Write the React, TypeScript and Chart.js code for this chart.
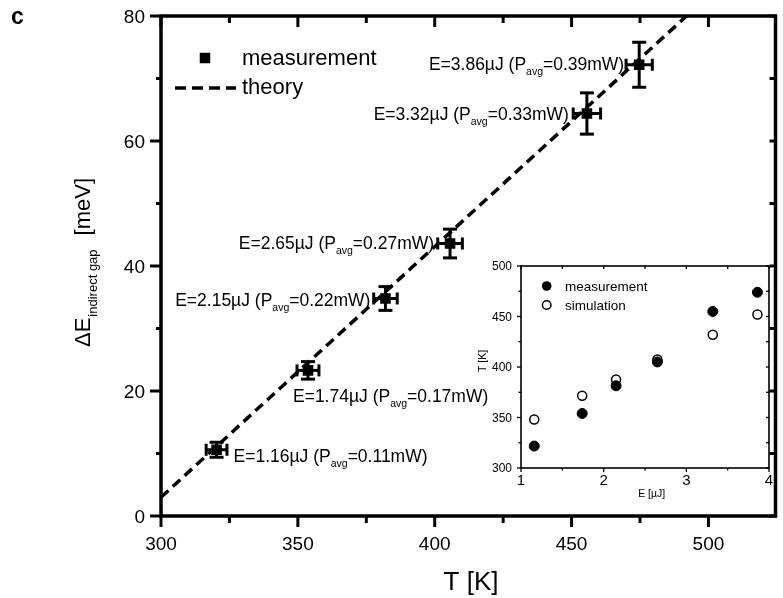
import React, { useEffect, useRef } from "react";
import { Chart, registerables } from "chart.js";

Chart.register(...registerables);

const FONT = "'Liberation Sans', Arial, Helvetica, sans-serif";

// ---------- main plot data ----------
const energyLabels = ["1.16", "1.74", "2.15", "2.65", "3.32", "3.86"]; // pulse energy, µJ
const powerLabels = ["0.11", "0.17", "0.22", "0.27", "0.33", "0.39"]; // average power, mW
const measuredT = [320.3, 353.7, 382.0, 405.6, 455.6, 474.7]; // K
const gapShift = [10.6, 23.3, 34.8, 43.6, 64.4, 72.2]; // meV
const tErr = [3.8, 4.0, 4.3, 4.5, 5.0, 4.8];
const gapErr = [1.2, 1.4, 1.9, 2.3, 3.3, 3.6];
const theoryT = [300, 492];
const theoryGap = [3.0, 80];
const xTickValues = [300, 350, 400, 450, 500];
const yTickValues = [0, 20, 40, 60, 80];

// ---------- inset data ----------
const insetEnergy = [1.16, 1.74, 2.15, 2.65, 3.32, 3.86];
const insetMeasuredT = [321.7, 354, 381.4, 405, 455, 474];
const insetSimulatedT = [348, 371.5, 387.7, 407.5, 432, 452];
const insetXTicks = [1, 2, 3, 4];
const insetYTicks = [300, 350, 400, 450, 500];

// label placement relative to each point (pixels)
const labelPlacement = [
  { dx: 17, dy: 12, align: "left" },
  { dx: -15, dy: 32, align: "left" },
  { dx: -15, dy: 7, align: "right" },
  { dx: -16, dy: 5, align: "right" },
  { dx: -18, dy: 6, align: "right" },
  { dx: -15, dy: 5, align: "right" },
];

function midpoints(arr: number[]) {
  const out: number[] = [];
  for (let i = 0; i < arr.length - 1; i++) out.push((arr[i] + arr[i + 1]) / 2);
  return out;
}

function drawEnergyLabel(ctx: CanvasRenderingContext2D, x: number, y: number, e: string, p: string, align: string) {
  const big = `17.5px ${FONT}`;
  const small = `10.5px ${FONT}`;
  const a = `E=${e}µJ (P`;
  const b = "avg";
  const c = `=${p}mW)`;
  ctx.font = big;
  const wa = ctx.measureText(a).width;
  const wc = ctx.measureText(c).width;
  ctx.font = small;
  const wb = ctx.measureText(b).width;
  const total = wa + wb + wc;
  const sx = align === "right" ? x - total : x;
  ctx.textAlign = "left";
  ctx.textBaseline = "alphabetic";
  ctx.fillStyle = "#000";
  ctx.font = big;
  ctx.fillText(a, sx, y);
  ctx.font = small;
  ctx.fillText(b, sx + wa, y + 5);
  ctx.font = big;
  ctx.fillText(c, sx + wa + wb, y);
}

function line(ctx: CanvasRenderingContext2D, x1: number, y1: number, x2: number, y2: number) {
  ctx.beginPath();
  ctx.moveTo(x1, y1);
  ctx.lineTo(x2, y2);
  ctx.stroke();
}

const mainPlugin = {
  id: "mainDecor",
  afterDatasetsDraw(chart: any) {
    const { ctx } = chart;
    const x = chart.scales.x;
    const y = chart.scales.y;
    ctx.save();
    ctx.strokeStyle = "#000";
    ctx.lineWidth = 3;
    ctx.lineCap = "butt";
    for (let i = 0; i < measuredT.length; i++) {
      const px = x.getPixelForValue(measuredT[i]);
      const py = y.getPixelForValue(gapShift[i]);
      const xl = x.getPixelForValue(measuredT[i] - tErr[i]);
      const xr = x.getPixelForValue(measuredT[i] + tErr[i]);
      const yt = y.getPixelForValue(gapShift[i] + gapErr[i]);
      const yb = y.getPixelForValue(gapShift[i] - gapErr[i]);
      line(ctx, xl, py, xr, py);
      line(ctx, xl, py - 6, xl, py + 6);
      line(ctx, xr, py - 6, xr, py + 6);
      line(ctx, px, yt, px, yb);
      line(ctx, px - 7, yt, px + 7, yt);
      line(ctx, px - 7, yb, px + 7, yb);
    }
    ctx.restore();
  },
  afterDraw(chart: any) {
    const { ctx, chartArea } = chart;
    const { left, right, top, bottom } = chartArea;
    const x = chart.scales.x;
    const y = chart.scales.y;
    ctx.save();
    ctx.strokeStyle = "#000";
    ctx.fillStyle = "#000";
    ctx.lineWidth = 3.5;
    ctx.lineJoin = "miter";
    ctx.strokeRect(left, top, right - left, bottom - top);

    ctx.lineWidth = 3;
    xTickValues.forEach((v) => {
      const px = x.getPixelForValue(v);
      line(ctx, px, bottom, px, bottom + 11);
      line(ctx, px, top, px, top + 11);
    });
    midpoints(xTickValues).forEach((v) => {
      const px = x.getPixelForValue(v);
      line(ctx, px, bottom, px, bottom + 7);
      line(ctx, px, top, px, top + 7);
    });
    yTickValues.forEach((v) => {
      const py = y.getPixelForValue(v);
      line(ctx, left, py, left - 11, py);
      line(ctx, right, py, right - 6, py);
    });
    midpoints(yTickValues).forEach((v) => {
      const py = y.getPixelForValue(v);
      line(ctx, left, py, left - 5, py);
      line(ctx, right, py, right - 6, py);
    });

    // tick labels
    ctx.font = `19px ${FONT}`;
    ctx.textBaseline = "alphabetic";
    ctx.textAlign = "center";
    xTickValues.forEach((v) => {
      ctx.fillText(String(v), x.getPixelForValue(v), bottom + 34);
    });
    ctx.textAlign = "right";
    yTickValues.forEach((v) => {
      ctx.fillText(String(v), left - 16, y.getPixelForValue(v) + 6.8);
    });

    // point annotations
    for (let i = 0; i < measuredT.length; i++) {
      const px = x.getPixelForValue(measuredT[i]);
      const py = y.getPixelForValue(gapShift[i]);
      const pl = labelPlacement[i];
      drawEnergyLabel(ctx, px + pl.dx, py + pl.dy, energyLabels[i], powerLabels[i], pl.align);
    }

    // legend
    ctx.fillRect(205 - 5.25, 58 - 5.25, 10.5, 10.5);
    ctx.font = `22px ${FONT}`;
    ctx.textAlign = "left";
    ctx.textBaseline = "alphabetic";
    ctx.fillText("measurement", 242, 65);
    ctx.fillText("theory", 242, 94);
    ctx.lineWidth = 3.5;
    ctx.setLineDash([11, 6]);
    line(ctx, 175, 88, 236, 88);
    ctx.setLineDash([]);

    // panel letter
    ctx.font = `bold 23px ${FONT}`;
    ctx.fillText("c", 11, 24);

    // x title
    ctx.font = `26px ${FONT}`;
    ctx.textAlign = "center";
    ctx.fillText("T [K]", 471, 590);

    // y title (rotated, with subscript)
    ctx.save();
    ctx.translate(89.5, 347);
    ctx.rotate(-Math.PI / 2);
    ctx.textAlign = "left";
    ctx.font = `22px ${FONT}`;
    ctx.fillText("ΔE", 0, 0);
    const w1 = ctx.measureText("ΔE").width;
    ctx.font = `13px ${FONT}`;
    ctx.fillText("indirect gap", w1 + 1, 7.5);
    const w2 = ctx.measureText("indirect gap").width;
    ctx.font = `22px ${FONT}`;
    ctx.fillText("[meV]", w1 + 1 + w2 + 14, 0);
    ctx.restore();

    ctx.restore();
  },
};

const insetPlugin = {
  id: "insetDecor",
  afterDraw(chart: any) {
    const { ctx, chartArea } = chart;
    const { left, right, top, bottom } = chartArea;
    const x = chart.scales.x;
    const y = chart.scales.y;
    ctx.save();
    ctx.strokeStyle = "#000";
    ctx.fillStyle = "#000";
    ctx.lineWidth = 1.6;
    ctx.strokeRect(left, top, right - left, bottom - top);
    ctx.lineWidth = 1.3;
    insetXTicks.forEach((v) => {
      const px = x.getPixelForValue(v);
      line(ctx, px, bottom, px, bottom + 4);
      line(ctx, px, top, px, top + 3);
    });
    midpoints(insetXTicks).forEach((v) => {
      const px = x.getPixelForValue(v);
      line(ctx, px, bottom, px, bottom + 2.5);
      line(ctx, px, top, px, top + 3);
    });
    insetYTicks.forEach((v) => {
      const py = y.getPixelForValue(v);
      line(ctx, left, py, left - 4, py);
      line(ctx, right, py, right - 3, py);
    });
    midpoints(insetYTicks).forEach((v) => {
      const py = y.getPixelForValue(v);
      line(ctx, left, py, left - 2.5, py);
      line(ctx, right, py, right - 3, py);
    });

    // tick labels
    ctx.textBaseline = "alphabetic";
    ctx.font = `15px ${FONT}`;
    ctx.textAlign = "center";
    insetXTicks.forEach((v) => {
      ctx.fillText(String(v), x.getPixelForValue(v), bottom + 16.5);
    });
    ctx.font = `12px ${FONT}`;
    ctx.textAlign = "right";
    insetYTicks.forEach((v) => {
      ctx.fillText(String(v), left - 9, y.getPixelForValue(v) + 4.3);
    });

    // legend
    ctx.beginPath();
    ctx.arc(76.7, 36, 4.8, 0, Math.PI * 2);
    ctx.fill();
    ctx.beginPath();
    ctx.arc(76.7, 55, 4.3, 0, Math.PI * 2);
    ctx.lineWidth = 1.5;
    ctx.stroke();
    ctx.font = `13.5px ${FONT}`;
    ctx.textAlign = "left";
    ctx.fillText("measurement", 95, 40.7);
    ctx.fillText("simulation", 95, 60);

    // titles
    ctx.font = `10.5px ${FONT}`;
    ctx.textAlign = "center";
    ctx.fillText("E [µJ]", 181.7, 247);
    ctx.save();
    ctx.translate(16, 111);
    ctx.rotate(-Math.PI / 2);
    ctx.fillText("T [K]", 0, 0);
    ctx.restore();
    ctx.restore();
  },
};

function hiddenScale(min: number, max: number, ticks: number[], fit: (s: any) => void) {
  return {
    type: "linear" as const,
    min,
    max,
    afterBuildTicks: (s: any) => {
      s.ticks = ticks.map((v) => ({ value: v }));
    },
    afterFit: fit,
    grid: { display: false, drawTicks: false },
    border: { display: false },
    ticks: { display: false },
  };
}

export default function App() {
  const mainRef = useRef<HTMLCanvasElement>(null);
  const insetRef = useRef<HTMLCanvasElement>(null);

  useEffect(() => {
    const main = new Chart(mainRef.current as HTMLCanvasElement, {
      type: "scatter",
      data: {
        datasets: [
          {
            label: "measurement",
            data: measuredT.map((t, i) => ({ x: t, y: gapShift[i] })),
            pointStyle: "rect",
            pointRadius: 7.5,
            backgroundColor: "#000",
            borderColor: "#000",
            borderWidth: 0,
          },
          {
            label: "theory",
            type: "line",
            data: theoryT.map((t, i) => ({ x: t, y: theoryGap[i] })),
            borderColor: "#000",
            borderWidth: 3.5,
            borderDash: [10, 6],
            pointRadius: 0,
            fill: false,
            tension: 0,
          } as any,
        ],
      },
      options: {
        animation: false,
        responsive: false,
        maintainAspectRatio: false,
        devicePixelRatio: 1,
        layout: { padding: { top: 16, right: 2, left: 0, bottom: 0 } },
        plugins: { legend: { display: false }, tooltip: { enabled: false } },
        scales: {
          x: hiddenScale(300, 524.5, xTickValues, (s: any) => {
            s.height = 82;
          }),
          y: hiddenScale(0, 80, yTickValues, (s: any) => {
            s.width = 161;
          }),
        },
      },
      plugins: [mainPlugin],
    });

    const inset = new Chart(insetRef.current as HTMLCanvasElement, {
      type: "scatter",
      data: {
        datasets: [
          {
            label: "measurement",
            data: insetEnergy.map((e, i) => ({ x: e, y: insetMeasuredT[i] })),
            pointStyle: "circle",
            pointRadius: 5,
            backgroundColor: "#000",
            borderColor: "#000",
            borderWidth: 1,
          },
          {
            label: "simulation",
            data: insetEnergy.map((e, i) => ({ x: e, y: insetSimulatedT[i] })),
            pointStyle: "circle",
            pointRadius: 4.5,
            backgroundColor: "#fff",
            borderColor: "#000",
            borderWidth: 1.5,
          },
        ],
      },
      options: {
        animation: false,
        responsive: false,
        maintainAspectRatio: false,
        devicePixelRatio: 1,
        layout: { padding: { top: 16, right: 5, left: 0, bottom: 0 } },
        plugins: { legend: { display: false }, tooltip: { enabled: false } },
        scales: {
          x: hiddenScale(1, 4, insetXTicks, (s: any) => {
            s.height = 37;
          }),
          y: hiddenScale(300, 500, insetYTicks, (s: any) => {
            s.width = 51;
          }),
        },
      },
      plugins: [insetPlugin],
    });

    return () => {
      main.destroy();
      inset.destroy();
    };
  }, []);

  return (
    <div style={{ position: "fixed", left: 0, top: 0, width: 783, height: 598, background: "#fff" }}>
      <canvas
        ref={mainRef}
        width={783}
        height={598}
        style={{ position: "absolute", left: 0, top: 0, width: 783, height: 598 }}
      />
      <canvas
        ref={insetRef}
        width={305}
        height={255}
        style={{ position: "absolute", left: 470, top: 250, width: 305, height: 255 }}
      />
    </div>
  );
}
